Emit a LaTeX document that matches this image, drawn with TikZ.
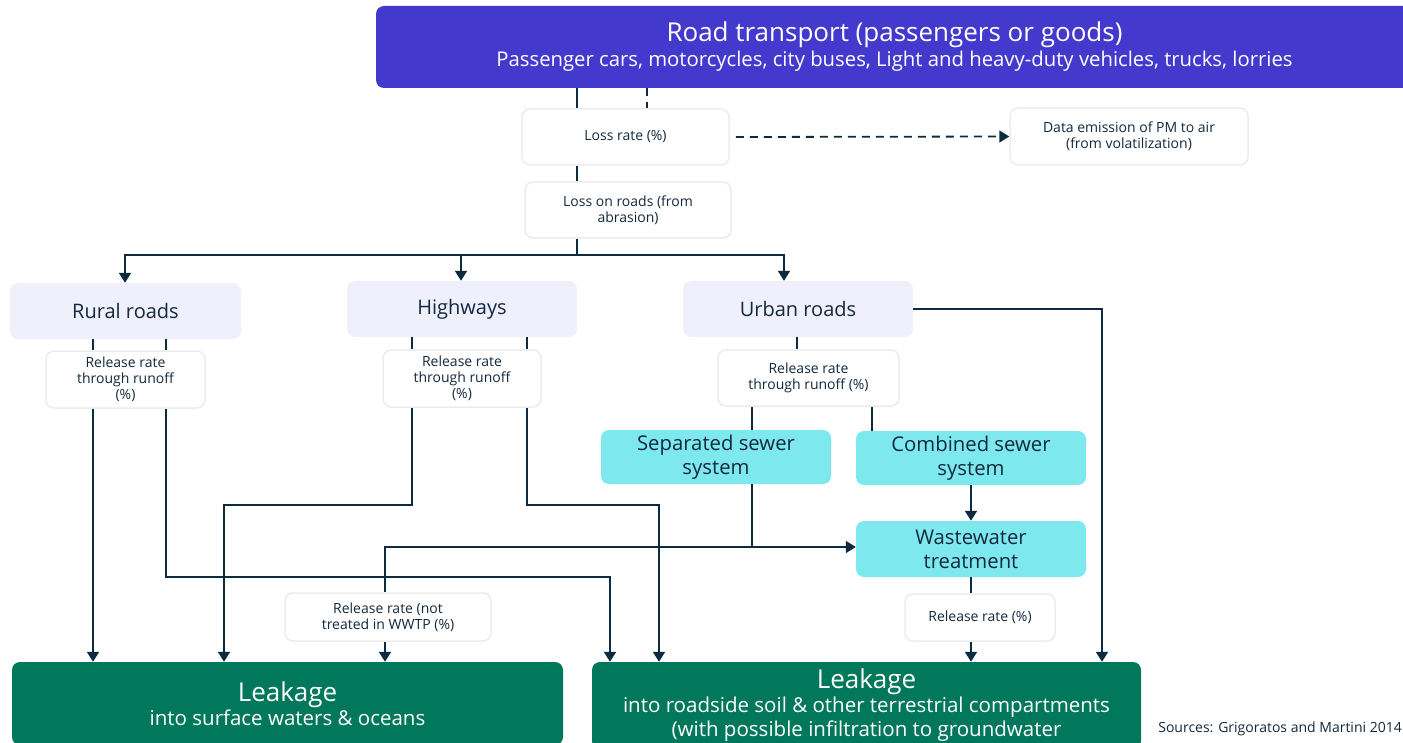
\documentclass[tikz,border=0pt]{standalone}
\usepackage{fontspec}
\setmainfont{Open Sans}
\usetikzlibrary{arrows.meta}
\definecolor{indigo}{HTML}{4339CC}
\definecolor{lav}{HTML}{F0F0FC}
\definecolor{cyanbox}{HTML}{7DE8EE}
\definecolor{leakgreen}{HTML}{01775C}
\definecolor{ink}{HTML}{13293D}
\definecolor{lineclr}{HTML}{0D2B40}
\definecolor{softgray}{HTML}{ECECEC}
\tikzset{
  box/.style={rounded corners=8pt, align=center, inner sep=0pt, text=ink},
  plainbox/.style={box, fill=white, draw=softgray, line width=1.5pt, font=\fontsize{14}{16}\selectfont},
  roadbox/.style={box, fill=lav, font=\fontsize{20}{24}\selectfont},
  sewerbox/.style={box, fill=cyanbox, font=\fontsize{20.3}{24}\selectfont},
  leakbox/.style={box, fill=leakgreen, text=white},
  conn/.style={draw=lineclr, line width=1.8pt},
  arr/.style={conn, -{Triangle[width=12pt,length=10pt]}},
  dashedconn/.style={conn, dash pattern=on 8pt off 6pt},
}
\begin{document}
\begin{tikzpicture}[x=1pt,y=-1pt]
\useasboundingbox (0,0) rectangle (1403,743);
\clip (0,0) rectangle (1403,743);
% top
\node[box, fill=indigo, text=white, minimum width=1037pt, minimum height=82pt, font=\fontsize{20.3}{24}\selectfont] (top) at (894.5,47)
  {{\fontsize{26}{30}\selectfont Road transport (passengers or goods)}\\[1pt] Passenger cars, motorcycles, city buses, Light and heavy-duty vehicles, trucks, lorries};
\node[plainbox, minimum width=207pt, minimum height=56pt] (lossrate) at (625.5,137) {Loss rate (\%)};
\node[plainbox, minimum width=238pt, minimum height=57pt] (emission) at (1129,136.5) {Data emission of PM to air\\(from volatilization)};
\node[plainbox, minimum width=206pt, minimum height=56pt] (lossroads) at (628,210) {Loss on roads (from\\abrasion)};
% roads
\node[roadbox, minimum width=231pt, minimum height=56pt] (rural) at (125.5,311) {Rural roads};
\node[roadbox, minimum width=230pt, minimum height=56pt] (highways) at (462,309) {Highways};
\node[roadbox, minimum width=230pt, minimum height=56pt] (urban) at (798,309) {Urban roads};
% release boxes
\node[plainbox, minimum width=159pt, minimum height=57pt] (rr1) at (125.5,379.5) {Release rate\\through runoff\\(\%)};
\node[plainbox, minimum width=158pt, minimum height=57pt] (rr2) at (462,378.5) {Release rate\\through runoff\\(\%)};
\node[plainbox, minimum width=181pt, minimum height=56pt] (rr3) at (808.5,378) {Release rate\\through runoff (\%)};
% sewers
\node[sewerbox, minimum width=230pt, minimum height=54pt] (sep) at (716,457) {Separated sewer\\system};
\node[sewerbox, minimum width=230pt, minimum height=54pt] (comb) at (971,458) {Combined sewer\\system};
\node[sewerbox, minimum width=230pt, minimum height=56pt] (wwt) at (971,549) {Wastewater\\treatment};
\node[plainbox, minimum width=206pt, minimum height=48pt] (nottreated) at (388,617) {Release rate (not\\treated in WWTP (\%)};
\node[plainbox, minimum width=150pt, minimum height=47pt] (relrate) at (980,617.5) {Release rate (\%)};
% leakage
\node[leakbox, minimum width=551pt, minimum height=83pt, font=\fontsize{20.5}{24}\selectfont] (leak1) at (287.5,703.5)
  {{\fontsize{26}{30}\selectfont Leakage}\\ into surface waters \& oceans};
\node[leakbox, minimum width=549pt, minimum height=87pt, font=\fontsize{20.5}{24}\selectfont] (leak2) at (866.5,705.5)
  {{\fontsize{26}{28}\selectfont Leakage}\\ into roadside soil \& other terrestrial compartments\\(with possible infiltration to groundwater};
\node[anchor=base east, text=ink, inner sep=0pt, font=\fontsize{14}{16}\selectfont] (src) at (1402,732) {Sources: Grigoratos and Martini 2014};
% connectors
\draw[conn] (577,0 |- top.south) -- (577,0 |- lossrate.north);
\draw[dashedconn] (647,0 |- top.south) -- (647,0 |- lossrate.north);
\draw[dashedconn, -{Triangle[width=12pt,length=10pt]}] ([xshift=6pt]lossrate.east) -- (emission.west);
\draw[conn] (577,0 |- lossrate.south) -- (577,0 |- lossroads.north);
\draw[conn] (577,0 |- lossroads.south) -- (577,255);
\draw[arr] (577,255) -| (125,0 |- rural.north);
\draw[arr] (577,255) -| (461,0 |- highways.north);
\draw[arr] (577,255) -| (784,0 |- urban.north);
% rural
\draw[conn] (93,0 |- rural.south) -- (93,0 |- rr1.north);
\draw[conn] (166,0 |- rural.south) -- (166,0 |- rr1.north);
\draw[arr] (93,0 |- rr1.south) -- (93,0 |- leak1.north);
\draw[arr] (166,0 |- rr1.south) -- (166,577) -| (610,0 |- leak2.north);
% highways
\draw[conn] (412,0 |- highways.south) -- (412,0 |- rr2.north);
\draw[conn] (527,0 |- highways.south) -- (527,0 |- rr2.north);
\draw[arr] (412,0 |- rr2.south) -- (412,505) -| (224,0 |- leak1.north);
\draw[arr] (527,0 |- rr2.south) -- (527,505) -| (659,0 |- leak2.north);
% urban
\draw[conn] (797,0 |- urban.south) -- (797,0 |- rr3.north);
\draw[conn] (752,0 |- rr3.south) -- (752,0 |- sep.north);
\draw[conn] (872,0 |- rr3.south) -- (872,0 |- comb.north);
\draw[arr] (comb.south) -- (wwt.north);
\draw[arr] (752,0 |- sep.south) -- (752,547) -- (wwt.west |- 0,547);
\draw[conn] (752,547) -- (385,547) -- (385,0 |- nottreated.north);
\draw[arr] (385,0 |- nottreated.south) -- (385,0 |- leak1.north);
\draw[conn] (971,0 |- wwt.south) -- (971,0 |- relrate.north);
\draw[arr] (971,0 |- relrate.south) -- (971,0 |- leak2.north);
\draw[arr] (urban.east) -- (1102,0 |- urban.east) -- (1102,0 |- leak2.north);
\end{tikzpicture}
\end{document}
